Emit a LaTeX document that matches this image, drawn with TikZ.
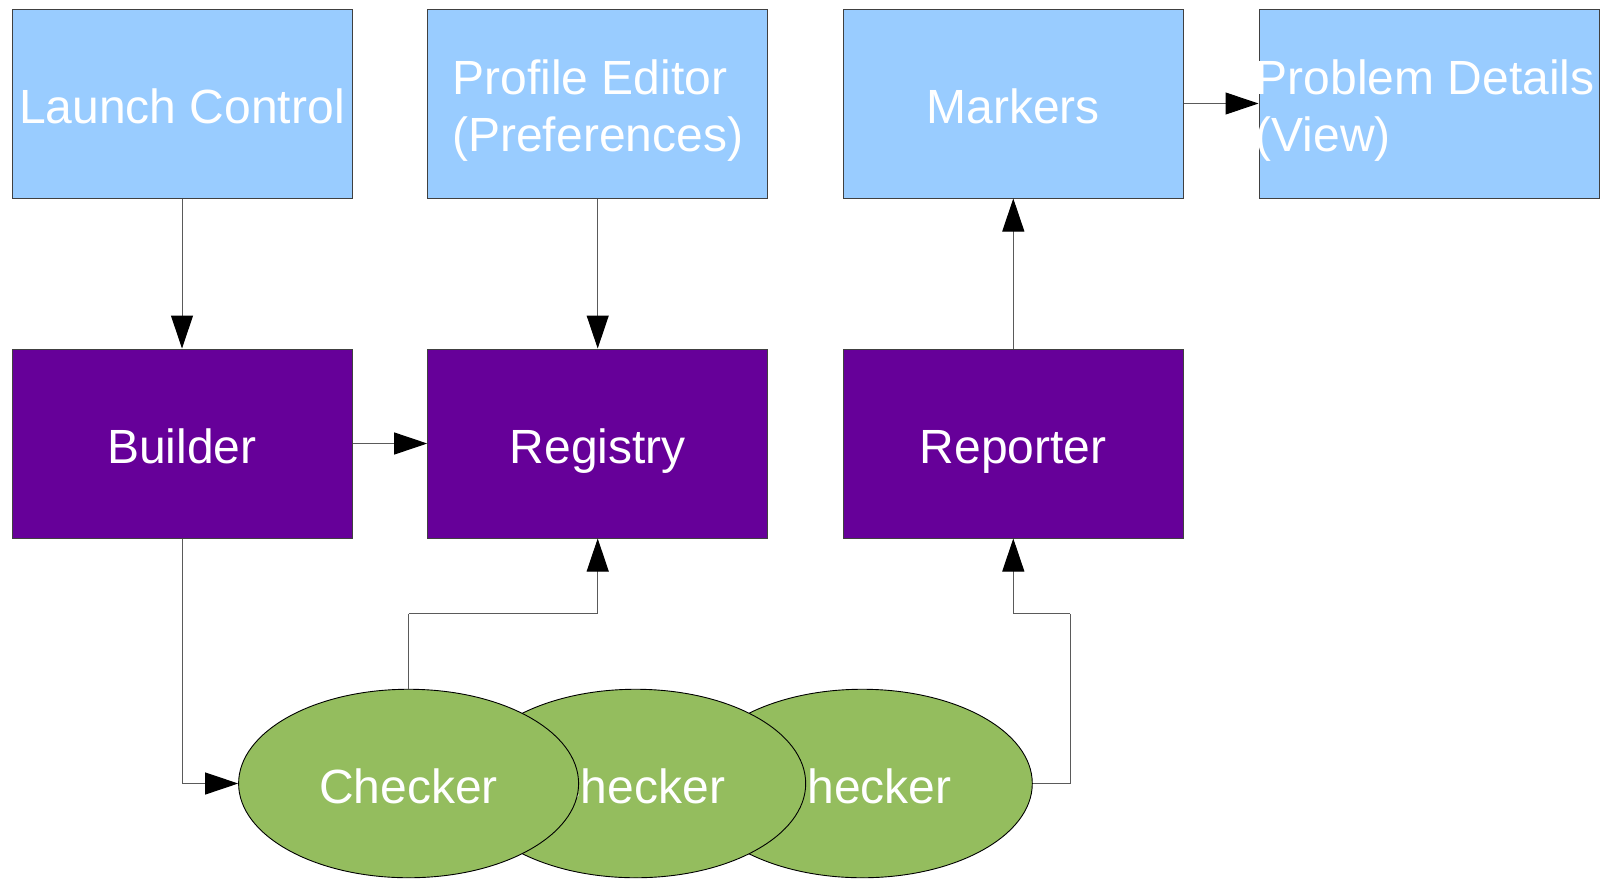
\documentclass[tikz,border=0pt]{standalone}
\usepackage{fontspec}
\setmainfont{Liberation Sans}
\usetikzlibrary{arrows.meta,shapes.geometric}
\definecolor{paleblue}{HTML}{99CCFF}
\definecolor{deeppurple}{HTML}{660099}
\definecolor{leafgreen}{HTML}{94BD5E}
\definecolor{wiregray}{HTML}{5A5A5A}
\tikzset{
  label font/.style={font=\fontsize{48}{57}\selectfont, text=white},
  one line/.style={label font, text height=44.6pt, text depth=5pt},
  two lines/.style={label font, align=left, inner sep=0pt},
  topbox/.style={rectangle, draw=black!75, line width=1pt, fill=paleblue,
    minimum width=340pt, minimum height=189pt, inner sep=0pt, one line},
  corebox/.style={topbox, fill=deeppurple},
  checkerblob/.style={ellipse, draw=black, line width=0.9pt, fill=leafgreen,
    minimum width=340pt, minimum height=188.5pt, inner sep=0pt, one line},
  wire/.style={draw=wiregray, line width=1pt,
    -{Triangle[length=33pt,width=22pt,color=black]}},
  plainwire/.style={draw=wiregray, line width=1pt}
}
\begin{document}
\begin{tikzpicture}[x=1pt,y=-1pt]
\useasboundingbox (0,0) rectangle (1606,879);

% top row
\node[topbox] (lc)   at (182,103.5)    {Launch Control};
\node[topbox] (pe)   at (597.7,103.5)  {};
\node[two lines] (petext) at (597.7,110.5) {Profile Editor\\(Preferences)};
\node[topbox] (mark) at (1013.3,103.5) {Markers};
\node[topbox] (pd)   at (1429,103.5)   {};
\node[two lines, anchor=west] (pdtext) at (1255.5,110.5) {Problem Details\\(View)};

% middle row
\node[corebox] (build) at (182,443.5)    {Builder};
\node[corebox] (reg)   at (597.7,443.5)  {Registry};
\node[corebox] (rep)   at (1013.3,443.5) {Reporter};

% stacked checkers, back to front
\node[checkerblob] (c3) at (862.3,783.5) {Checker};
\node[checkerblob] (c2) at (635.7,783.5) {Checker};
\node[checkerblob] (c1) at (408.6,783.5) {Checker};

% bend points
\coordinate (j1) at (408.6,613.7);
\coordinate (j2) at (1070,613.7);

% connectors
\draw[wire] (lc.south) -- (build.north);
\draw[wire] (pe.south) -- (reg.north);
\draw[wire] (build.east) -- (reg.west);
\draw[wire] (rep.north) -- (mark.south);
\draw[wire] (mark.east) -- (pd.west);
\draw[wire] (build.south) |- (c1.west);
\draw[plainwire] (c1.north) -- (j1);
\draw[wire] (j1) -| (reg.south);
\draw[plainwire] (c3.east) -| (j2);
\draw[wire] (j2) -| (rep.south);
\end{tikzpicture}
\end{document}
